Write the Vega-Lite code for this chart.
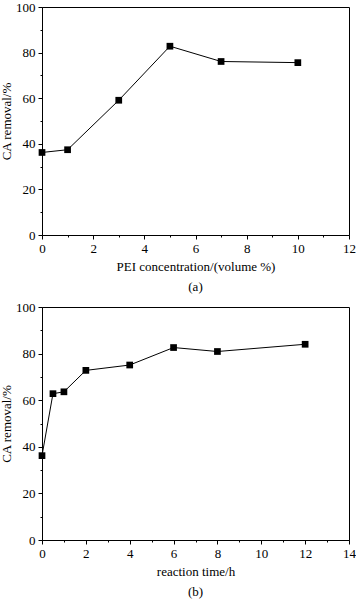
{
  "$schema": "https://vega.github.io/schema/vega-lite/v6.json",
  "background": "white",
  "padding": {"left": 0, "top": 0, "right": 0, "bottom": 0},
  "spacing": 5,
  "datasets": {
    "pei": [
      {"conc": 0, "removal": 36.2},
      {"conc": 1, "removal": 37.4},
      {"conc": 3, "removal": 59.1},
      {"conc": 5, "removal": 82.8},
      {"conc": 7, "removal": 76.1},
      {"conc": 10, "removal": 75.6}
    ],
    "time": [
      {"t": 0, "removal": 36.2},
      {"t": 0.5, "removal": 62.8},
      {"t": 1, "removal": 63.6},
      {"t": 2, "removal": 72.8},
      {"t": 4, "removal": 75.1},
      {"t": 6, "removal": 82.6},
      {"t": 8, "removal": 80.9},
      {"t": 12, "removal": 84.0}
    ]
  },
  "vconcat": [
    {
      "width": 307,
      "height": 228,
      "title": {"text": "(a)", "orient": "bottom", "offset": 8},
      "data": {"name": "pei"},
      "encoding": {
        "x": {
          "field": "conc", "type": "quantitative",
          "scale": {"domain": [0, 12], "nice": false},
          "axis": {
            "title": "PEI  concentration/(volume %)",
            "values": [0,1,2,3,4,5,6,7,8,9,10,11,12],
            "labelExpr": "datum.value % 2 === 0 ? datum.label : ''",
            "tickSize": {"condition": {"test": "datum.value % 2 === 0", "value": 4}, "value": 2}
          }
        },
        "y": {
          "field": "removal", "type": "quantitative",
          "scale": {"domain": [0, 100], "nice": false},
          "axis": {
            "title": "CA removal/%",
            "values": [0,10,20,30,40,50,60,70,80,90,100],
            "labelExpr": "datum.value % 20 === 0 ? datum.label : ''",
            "tickSize": {"condition": {"test": "datum.value % 20 === 0", "value": 4}, "value": 2}
          }
        }
      },
      "layer": [
        {"mark": {"type": "line", "color": "black", "strokeWidth": 1}},
        {"mark": {"type": "point", "shape": "square", "filled": true, "color": "black", "opacity": 1, "size": 45}}
      ]
    },
    {
      "width": 307,
      "height": 233,
      "title": {"text": "(b)", "orient": "bottom", "offset": 8},
      "data": {"name": "time"},
      "encoding": {
        "x": {
          "field": "t", "type": "quantitative",
          "scale": {"domain": [0, 14], "nice": false},
          "axis": {
            "title": "reaction time/h",
            "values": [0,1,2,3,4,5,6,7,8,9,10,11,12,13,14],
            "labelExpr": "datum.value % 2 === 0 ? datum.label : ''",
            "tickSize": {"condition": {"test": "datum.value % 2 === 0", "value": 4}, "value": 2}
          }
        },
        "y": {
          "field": "removal", "type": "quantitative",
          "scale": {"domain": [0, 100], "nice": false},
          "axis": {
            "title": "CA removal/%",
            "values": [0,10,20,30,40,50,60,70,80,90,100],
            "labelExpr": "datum.value % 20 === 0 ? datum.label : ''",
            "tickSize": {"condition": {"test": "datum.value % 20 === 0", "value": 4}, "value": 2}
          }
        }
      },
      "layer": [
        {"mark": {"type": "line", "color": "black", "strokeWidth": 1}},
        {"mark": {"type": "point", "shape": "square", "filled": true, "color": "black", "opacity": 1, "size": 45}}
      ]
    }
  ],
  "config": {
    "view": {"stroke": "black", "strokeWidth": 1},
    "font": "Liberation Serif",
    "title": {"font": "Liberation Serif", "fontSize": 13, "fontWeight": "normal", "color": "black"},
    "axis": {
      "grid": false,
      "domainColor": "black",
      "tickColor": "black",
      "labelColor": "black",
      "titleColor": "black",
      "labelFont": "Liberation Serif",
      "titleFont": "Liberation Serif",
      "labelFontSize": 13,
      "titleFontSize": 13,
      "titleFontWeight": "normal",
      "labelPadding": 3,
      "labelFlush": false,
      "labelOverlap": false
    },
    "axisX": {"titlePadding": 5},
    "axisY": {"titlePadding": 2}
  }
}
